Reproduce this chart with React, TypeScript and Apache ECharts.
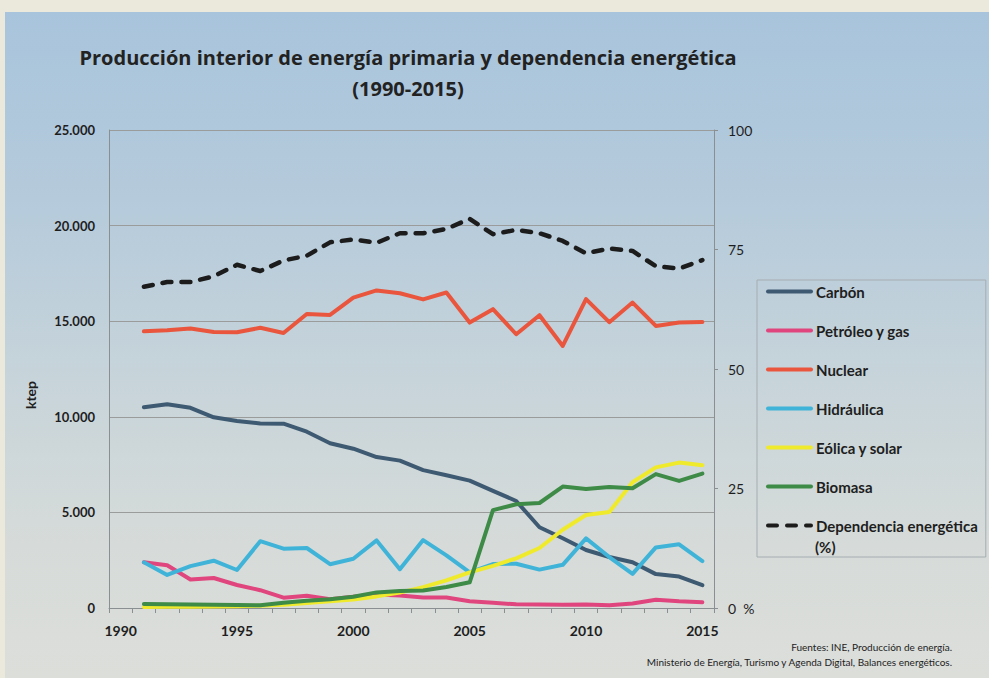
import React, { useEffect, useRef } from 'react';
import * as echarts from 'echarts';

const years = ['1990','1991','1992','1993','1994','1995','1996','1997','1998','1999','2000','2001','2002','2003','2004','2005','2006','2007','2008','2009','2010','2011','2012','2013','2014','2015'];
const carbon = [null, 10494, 10654, 10470, 9974, 9780, 9649, 9639, 9220, 8619, 8331, 7897, 7709, 7212, 6940, 6663, 6130, 5596, 4221, 3651, 3033, 2667, 2395, 1773, 1642, 1192];
const petroleo = [null, 2388, 2233, 1491, 1569, 1203, 931, 539, 643, 460, 591, 700, 650, 554, 544, 350, 272, 194, 178, 167, 188, 141, 235, 434, 350, 303];
const nuclear = [null, 14469, 14524, 14618, 14435, 14419, 14654, 14383, 15376, 15329, 16229, 16610, 16464, 16140, 16500, 14927, 15630, 14318, 15315, 13704, 16154, 14948, 15976, 14753, 14927, 14963];
const hidraulica = [null, 2388, 1731, 2191, 2474, 1987, 3494, 3101, 3138, 2291, 2578, 3535, 2029, 3551, 2756, 1867, 2296, 2317, 2008, 2259, 3640, 2667, 1783, 3169, 3332, 2448];
const eolica = [null, 50, 60, 70, 80, 90, 120, 173, 262, 356, 450, 607, 805, 1093, 1449, 1867, 2207, 2599, 3138, 4090, 4864, 5021, 6579, 7353, 7604, 7468];
const biomasa = [null, 207, 194, 183, 173, 157, 146, 277, 382, 460, 591, 816, 894, 910, 1098, 1344, 5120, 5424, 5492, 6354, 6224, 6328, 6266, 7003, 6647, 7029];
const dependencia = [null, 67.2, 68.2, 68.2, 69.4, 71.8, 70.5, 72.7, 73.7, 76.5, 77.1, 76.4, 78.4, 78.4, 79.3, 81.4, 78.2, 79.1, 78.4, 76.8, 74.2, 75.2, 74.7, 71.5, 71.0, 72.8];

const seriesNames = ['Carbón', 'Petróleo y gas', 'Nuclear', 'Hidráulica', 'Eólica y solar', 'Biomasa', 'Dependencia energética'];
const seriesColors = ['#3e5a72', '#e0467d', '#e9563d', '#3fb4d8', '#f0ea2c', '#3e8b47', '#1c1c1c'];

const titleLines = ['Producción interior de energía primaria y dependencia energética', '(1990-2015)'];
const sourceLines = ['Fuentes: INE, Producción de energía.', 'Ministerio de Energía, Turismo y Agenda Digital, Balances energéticos.'];

const FONT = 'Lato, "Open Sans", "Noto Sans", sans-serif';
const TITLE_FONT = '"Open Sans", Lato, sans-serif';

export default function App() {
  const ref = useRef<HTMLDivElement>(null);
  useEffect(() => {
    document.body.style.margin = '0';
    const chart = echarts.init(ref.current!, null, { renderer: 'svg' });
    const dataSets = [carbon, petroleo, nuclear, hidraulica, eolica, biomasa];
    const series: any[] = dataSets.map((d, i) => ({
      type: 'line',
      name: seriesNames[i],
      data: d,
      yAxisIndex: 0,
      symbol: 'none',
      connectNulls: false,
      lineStyle: { color: seriesColors[i], width: 4, cap: 'round', join: 'round' },
      itemStyle: { color: seriesColors[i] },
    }));
    series.push({
      type: 'line',
      name: seriesNames[6],
      data: dependencia,
      yAxisIndex: 1,
      symbol: 'none',
      lineStyle: { color: seriesColors[6], width: 4.5, type: [9, 10], cap: 'round', join: 'round' },
      itemStyle: { color: seriesColors[6] },
    });
    chart.setOption({
      animation: false,
      backgroundColor: 'transparent',
      textStyle: { fontFamily: FONT },
      grid: { left: 109, right: 275, top: 130, bottom: 70, containLabel: false },
      xAxis: {
        type: 'category',
        data: years,
        boundaryGap: true,
        axisLine: { lineStyle: { color: '#8a8f92', width: 1 } },
        axisTick: { show: true, interval: 0, length: 5, lineStyle: { color: '#8a8f92' } },
        axisLabel: { interval: 4, margin: 15, fontFamily: FONT, fontWeight: 'bold', fontSize: 14, color: '#1e1e1e' },
        splitLine: { show: false },
      },
      yAxis: [
        {
          type: 'value', min: 0, max: 25000, interval: 5000,
          axisLine: { show: true, lineStyle: { color: '#8a8f92' } },
          axisTick: { show: false },
          axisLabel: {
            margin: 14, fontFamily: FONT, fontWeight: 'bold', fontSize: 13, color: '#1e1e1e',
            formatter: (v: number) => (v === 0 ? '0' : v.toLocaleString('de-DE')),
          },
          splitLine: { show: true, lineStyle: { color: '#9a9c9c', width: 1 } },
        },
        {
          type: 'value', min: 0, max: 100, interval: 25, position: 'right',
          axisLine: { show: true, lineStyle: { color: '#8a8f92' } },
          axisTick: { show: true, length: 4, lineStyle: { color: '#8a8f92' } },
          axisLabel: {
            margin: 14, fontFamily: FONT, fontSize: 14, color: '#1e1e1e',
            formatter: (v: number) => (v === 0 ? '0  %' : String(v)),
          },
          splitLine: { show: false },
        },
      ],
      legend: {
        orient: 'vertical',
        left: 757,
        top: 280,
        data: seriesNames,
        itemWidth: 43,
        itemHeight: 14,
        itemGap: 24,
        padding: [4, 8, 24, 9],
        borderColor: '#a6adb1',
        borderWidth: 1,
        selectedMode: false,
        itemStyle: { opacity: 0 },
        lineStyle: { width: 4 },
        textStyle: { fontFamily: FONT, fontWeight: 'bold', fontSize: 15, color: '#1e1e1e', lineHeight: 14 },
      },
      graphic: [
        { type: 'text', x: 408, y: 57, style: { text: titleLines[0], textAlign: 'center', textVerticalAlign: 'middle', font: `bold 20px ${TITLE_FONT}`, fill: '#222' } },
        { type: 'text', x: 408, y: 88, style: { text: titleLines[1], textAlign: 'center', textVerticalAlign: 'middle', font: `bold 20px ${TITLE_FONT}`, fill: '#222' } },
        { type: 'text', x: 30, y: 395, rotation: Math.PI / 2, style: { text: 'ktep', textAlign: 'center', textVerticalAlign: 'middle', font: `bold 14px ${FONT}`, fill: '#1e1e1e' } },
        { type: 'text', x: 815, y: 547, style: { text: '(%)', textAlign: 'left', textVerticalAlign: 'middle', font: `bold 15px ${FONT}`, fill: '#1e1e1e' } },
        { type: 'text', x: 952, y: 647, style: { text: sourceLines[0], textAlign: 'right', textVerticalAlign: 'middle', font: `10px ${FONT}`, fill: '#222' } },
        { type: 'text', x: 952, y: 662, style: { text: sourceLines[1], textAlign: 'right', textVerticalAlign: 'middle', font: `10px ${FONT}`, fill: '#222' } },
      ],
      series,
    });
    return () => chart.dispose();
  }, []);
  return (
    <div style={{ position: 'relative', width: 989, height: 678, background: '#ebe8dc', overflow: 'hidden' }}>
      <div style={{ position: 'absolute', left: 5, top: 12, width: 984, height: 666, background: 'linear-gradient(180deg, #a8c4dc 0%, #b6cbdb 30%, #c7d4da 55%, #d6dbd9 80%, #dcdeda 100%)' }} />
      <div ref={ref} style={{ position: 'absolute', left: 0, top: 0, width: 989, height: 678 }} />
    </div>
  );
}
